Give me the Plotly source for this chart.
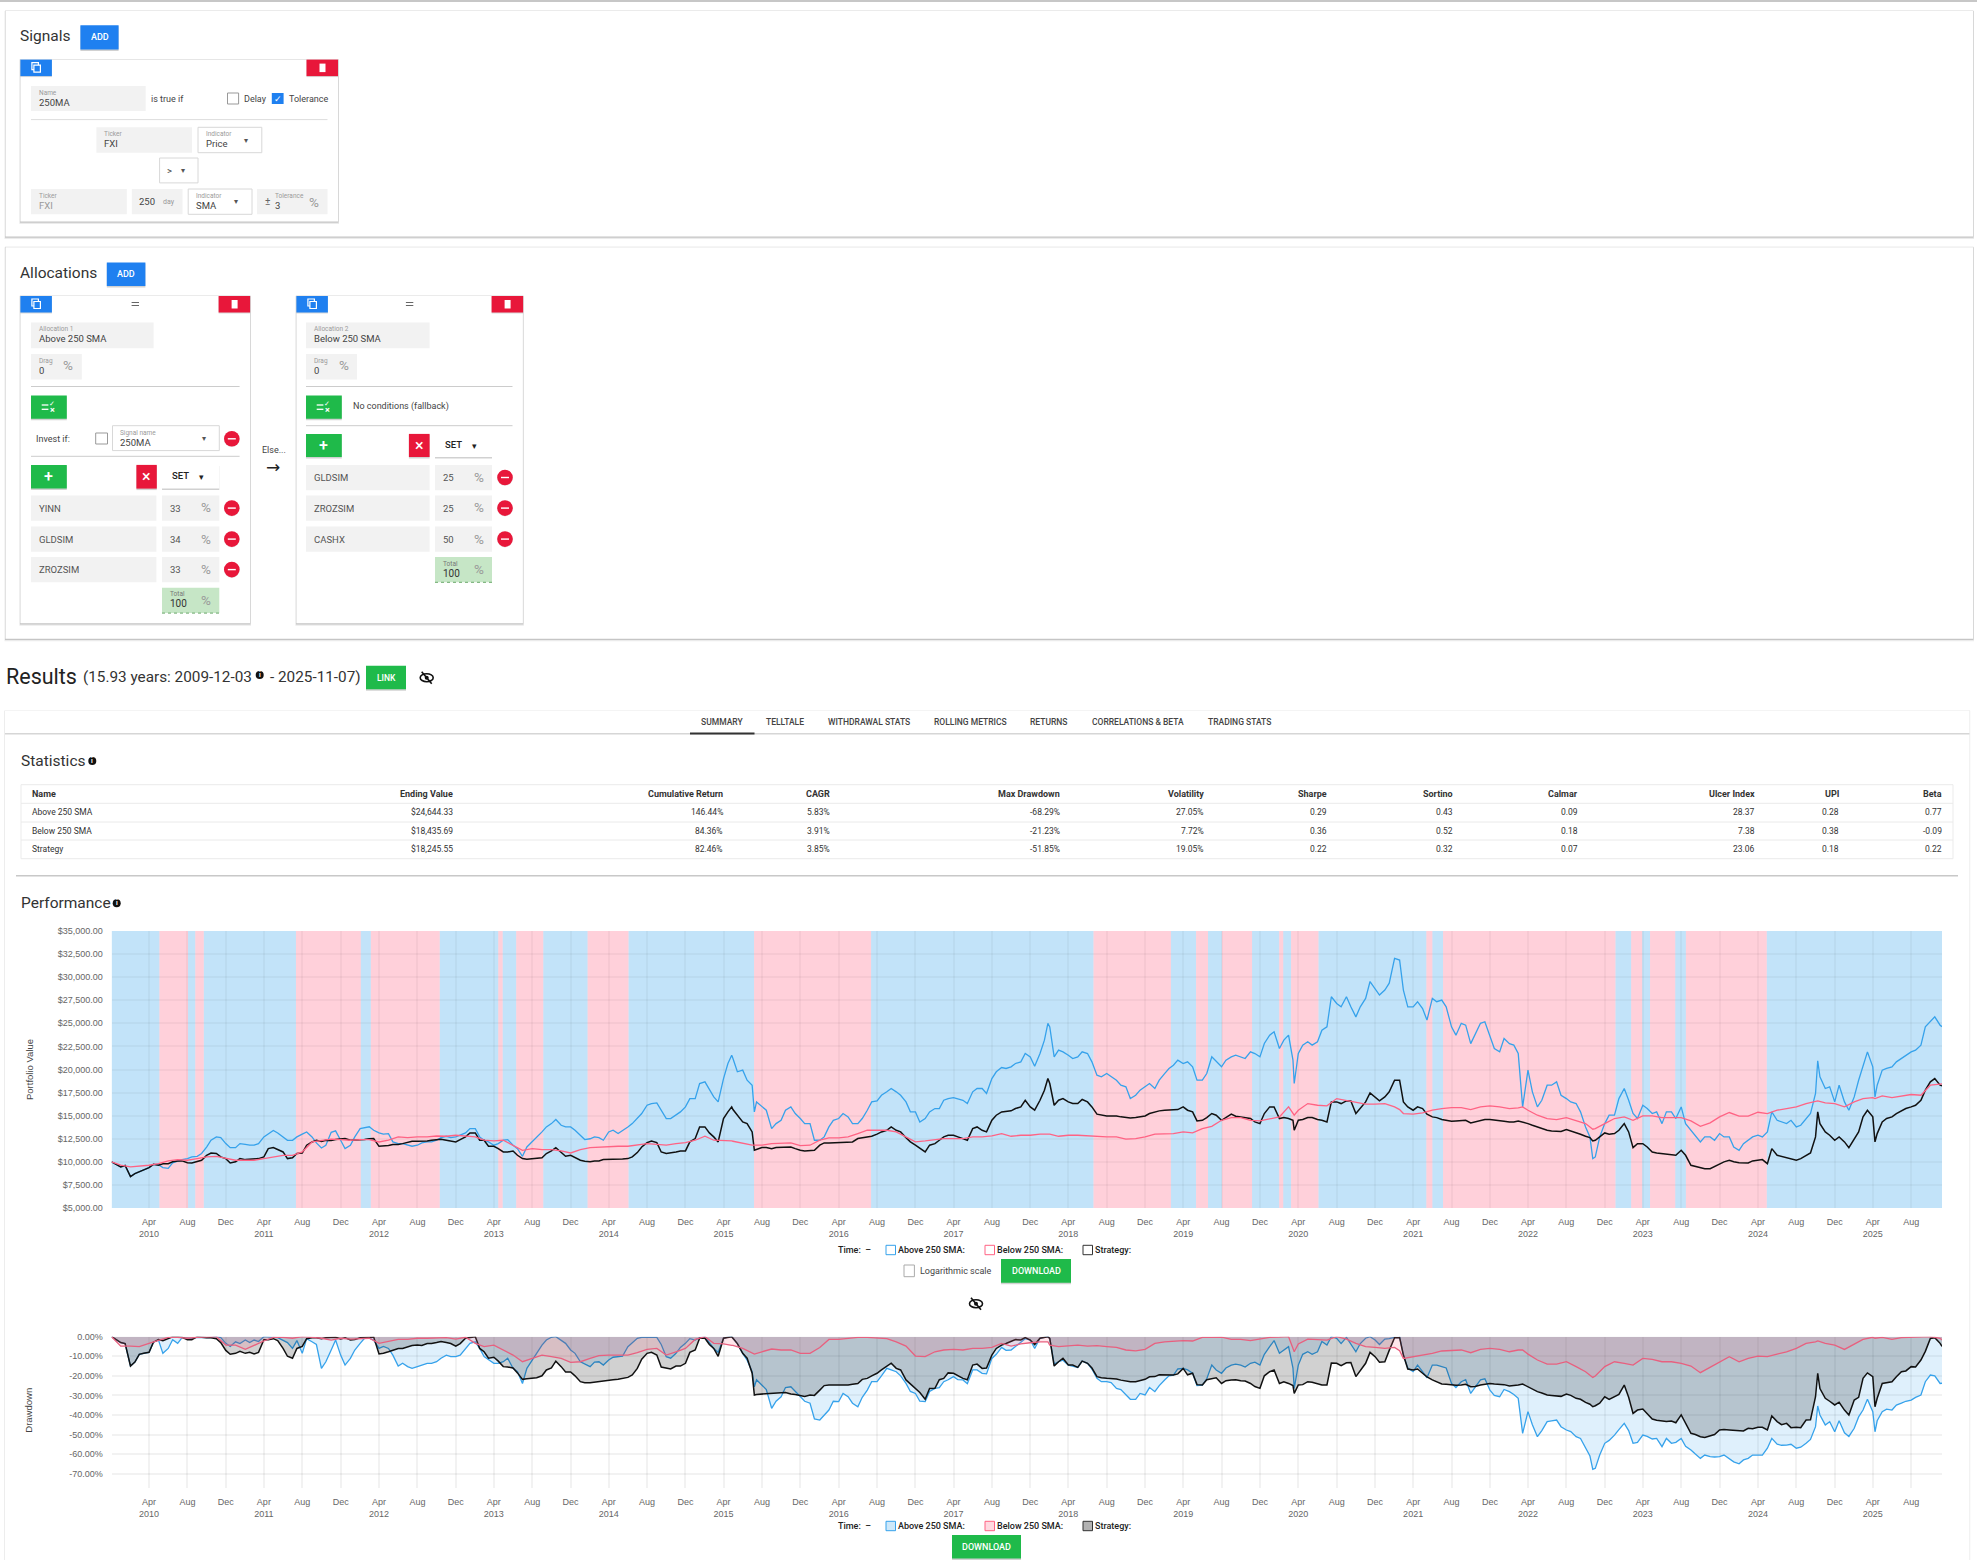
import pandas as pd
import plotly.graph_objects as go
from plotly.subplots import make_subplots

W = 1977
H = 1560
UI_FONT = "Roboto, Liberation Sans, sans-serif"
CHART_FONT = "Liberation Sans Narrow, Liberation Sans, sans-serif"

BLUE_BTN = "#1F80F0"
RED_BTN = "#E8173A"
GREEN_BTN = "#1FBA4A"
FIELD = "#F2F2F2"

# ---- chart data (month starts plus a few turning points)
month_dates = list(pd.date_range("2010-01-01", "2025-11-01", freq="MS").strftime("%Y-%m-%d"))
extra_dates = ["2009-12-03", "2015-04-27", "2015-07-08", "2018-01-26", "2020-03-19", "2021-02-17",
               "2022-03-15", "2022-10-24", "2024-10-08", "2025-04-08", "2025-11-07"]
dates = sorted(month_dates + extra_dates)
# the two jagged series are also read at mid month
mid_dates = [d[:8] + "15" for d in month_dates[:-1]]

above_value = [
    10000,
    9450, 8400, 8900, 9370, 9700, 9300, 10100, 10350, 10600, 11600, 12700, 11980,
    11540, 11900, 11800, 12700, 13400, 12700, 12330, 13000, 12700, 11500, 13200, 12340,
    11800, 13600, 13800, 13130, 13050, 11970, 11800, 11800, 12160, 12340, 12770, 12700,
    13130, 13600, 12340, 11800, 12340, 11800, 10600, 12160, 13240, 14140, 13960, 13780,
    12880, 12500, 12620, 13240, 13060, 13780, 14690, 16130, 16380, 14690, 15050, 15950,
    16850, 18660, 17030, 19020, 21550, 21190, 19930, 18300, 15400, 15950, 13600, 14500, 15950, 14690,
    14140, 12340, 13780, 14690, 14870, 14140, 15590, 16600, 17580, 17580, 16490, 15410,
    14690, 15770, 16670, 16960, 16670, 17580, 17940, 19020, 20210, 20290, 20830, 21370,
    21730, 25000, 24620, 22100, 21550, 21370, 21730, 19380, 19560, 18840, 18120, 17210, 18120,
    17940, 19560, 20470, 20650, 20290, 18840, 21370, 20290, 21370, 21370, 21910, 21370,
    23720, 22270, 23720, 18480, 21730, 23000, 23000, 24620, 27150, 27880, 25700, 27700, 28780,
    28600, 32030, 31850, 28600, 26790, 26600, 27700, 27520, 24620, 25000, 22800, 25000, 23540,
    21910, 22800, 21730, 15950, 19930, 15950, 18300, 18660, 16850, 16310, 13780, 10350, 10530, 14140,
    15050, 17940, 15230, 16130, 15230, 14140, 15410, 15950, 13420, 12160, 12700, 13060,
    12700, 11250, 12340, 12880, 13240, 14500, 14140, 13780, 14690, 17400, 20940, 17940, 16490,
    16490, 17030, 20470, 20290, 17030, 19930, 20290, 21190, 21910, 22640, 25170, 24800, 24644,
]
above_value_mid = [
    9600, 8720, 9150, 9730, 9370, 9900, 10240, 10530, 10900, 12340, 12620, 11540,
    11970, 11800, 11970, 13000, 13130, 12340, 12700, 13240, 12050, 11800, 13350, 11430,
    12700, 13710, 13420, 13000, 12160, 11970, 11690, 12050, 12160, 12620, 12620, 12880,
    13600, 12700, 12160, 11970, 12410, 11430, 11610, 12700, 13780, 14580, 13780, 13420,
    12410, 12700, 12340, 13420, 13350, 14140, 15230, 16310, 15590, 14690, 15410, 16850,
    18480, 17760, 16490, 20650, 19750, 18840, 16490, 15590, 14140, 15590, 15230, 14140,
    12340, 12700, 14500, 15230, 14140, 14690, 16490, 17210, 17940, 17210, 15410, 14320,
    15410, 15770, 16850, 16850, 16310, 17940, 17400, 19750, 20110, 20650, 21730, 20360,
    23180, 21370, 21910, 21190, 21910, 20830, 19200, 19200, 18300, 16850, 17760, 18480,
    18840, 20110, 21010, 20830, 18840, 19560, 20830, 21010, 21550, 21190, 21730, 22820,
    24080, 23180, 21010, 22640, 22640, 24260, 27880, 26790, 26790, 26790, 29530, 28060,
    29350, 31850, 26790, 27340, 25350, 27340, 26790, 23720, 24800, 23720, 25170, 22270,
    23360, 22640, 15950, 17580, 16670, 18300, 17210, 16490, 15410, 12700, 12700, 15050,
    16850, 16670, 14690, 15770, 15410, 15410, 14690, 14140, 12880, 12700, 12340, 12700,
    11610, 11970, 12700, 12700, 15410, 14320, 14500, 13960, 15230, 19200, 18120, 18300,
    15590, 18840, 21910, 18300, 20110, 20830, 21550, 22100, 24620, 25710,
]
below_value = [
    10000,
    9650, 9450, 9520, 9630, 9800, 10100, 10240, 10170, 10350, 10530, 10600, 10350,
    10170, 10170, 10170, 10350, 10530, 10700, 10700, 11070, 12150, 12260, 12450, 12400,
    12340, 12400, 12400, 12150, 12340, 12700, 12620, 12700, 12700, 12800, 12770, 12880,
    12800, 12700, 12340, 12260, 12340, 11800, 11250, 11430, 11320, 11320, 11180, 10960,
    11320, 11540, 11610, 11610, 11690, 11690, 11800, 11970, 11900, 11800, 11970, 12080,
    12340, 12770, 12340, 12340, 12260, 12230, 11970, 11800, 11800, 11800, 11970, 11970, 12050, 11760,
    11800, 12340, 12590, 12590, 12700, 13060, 13420, 13420, 13420, 13240, 12700, 12160,
    12260, 12400, 12520, 12520, 12520, 12700, 12700, 12800, 13060, 12770, 12880, 12880,
    13000, 13000, 13000, 12770, 12880, 12880, 12800, 12800, 12700, 12700, 12450, 12520, 12700,
    13000, 13060, 13060, 13240, 13130, 13600, 13850, 14500, 14790, 14790, 14500, 14430,
    14690, 14870, 15950, 15050, 15590, 16310, 16130, 16060, 16850, 16670, 16490, 16240, 16240,
    16310, 15950, 15660, 15230, 15160, 15300, 15590, 15770, 15880, 15880, 15660, 15950, 16060,
    15950, 15770, 15840, 15950, 15590, 15050, 14690, 14580, 14790, 14500, 14140, 13530, 13600, 14140,
    14690, 14870, 14500, 14970, 14970, 14790, 14790, 14790, 14430, 13850, 14220, 14870,
    15340, 14940, 14940, 15370, 15230, 15590, 15770, 15950, 16310, 16600, 16600, 16380, 16310,
    15950, 16490, 16850, 16960, 16850, 17140, 16960, 17140, 17290, 17210, 18300, 18410, 18436,
]
strategy_value = [
    10000,
    9450, 8400, 8900, 9370, 9630, 9800, 10100, 9900, 10000, 10700, 10900, 10350,
    10000, 10240, 10350, 10530, 11540, 11070, 10450, 10950, 12150, 12200, 12300, 12500,
    12340, 12400, 12500, 11680, 11760, 11870, 12150, 12230, 12260, 12400, 12340, 12160,
    12700, 13130, 12340, 11680, 11070, 11180, 10350, 10350, 10450, 11180, 11070, 10700,
    10170, 10000, 10100, 10240, 10280, 10350, 11000, 12080, 12080, 10900, 11070, 11180,
    12520, 13780, 12700, 14690, 15950, 15660, 14320, 13240, 11250, 11540, 11430, 11540, 11610, 11250,
    11250, 11800, 12050, 12080, 12160, 12520, 12700, 13000, 13420, 13420, 12620, 11800,
    11070, 11970, 12700, 12880, 12520, 13600, 13420, 14500, 15410, 15520, 15950, 15950,
    16670, 19020, 18480, 16670, 16490, 16310, 16490, 15160, 14970, 14970, 14790, 14790, 14970,
    15410, 15590, 15660, 15950, 15410, 14500, 15230, 14500, 15160, 14870, 14690, 14140,
    15950, 14690, 14690, 13420, 14500, 14790, 14580, 14320, 16490, 16600, 15230, 16490, 17030,
    17030, 18840, 18840, 16490, 15590, 15770, 14870, 14580, 14400, 14430, 14220, 14430, 14580,
    14430, 14320, 14430, 14320, 14140, 13780, 13420, 13310, 13490, 13130, 12770, 12260, 12340, 13130,
    13060, 14140, 11540, 11970, 11070, 10900, 10820, 11250, 9630, 9370, 9260, 9730,
    10170, 9900, 9880, 10170, 9800, 10710, 10460, 10170, 10710, 12700, 15410, 13240, 12340,
    12160, 12520, 14870, 14870, 12160, 14320, 14870, 15520, 15950, 16670, 18660, 18300, 18246,
]
strategy_value_mid = [
    9600, 8720, 9150, 9730, 9800, 10000, 10100, 9880, 10170, 10960, 10530, 9880,
    10350, 10280, 10350, 11430, 11320, 10350, 10900, 11800, 12340, 12340, 12410, 12520,
    12340, 12410, 12520, 11690, 11870, 11970, 12230, 12230, 12340, 12450, 12260, 12410,
    13130, 12340, 11690, 11430, 11070, 10710, 10280, 10460, 10900, 11540, 10600, 10460,
    10060, 10100, 10240, 10280, 10310, 10530, 11610, 12260, 11070, 10960, 11180, 12160,
    13780, 13130, 12160, 15410, 15050, 14140, 11320, 11540, 11540, 11610, 11430, 11180,
    11250, 12050, 12080, 12120, 12160, 12620, 12770, 13240, 13780, 13240, 12160, 11430,
    11800, 12340, 12880, 12700, 12340, 13780, 13240, 15050, 15480, 15770, 16670, 15590,
    17760, 16130, 16850, 16310, 16750, 15950, 15050, 14970, 14870, 14760, 14870, 15230,
    15520, 15590, 15660, 15590, 14430, 14790, 15050, 14790, 14940, 14790, 14320, 15230,
    15950, 14790, 14500, 14580, 14790, 14500, 16490, 16310, 16600, 15770, 17470, 16600,
    17580, 18840, 15950, 15950, 15160, 14790, 14500, 14430, 14500, 14320, 14580, 14500,
    14400, 14320, 14320, 13960, 13600, 13350, 13280, 13350, 12990, 12620, 12700, 12990,
    13420, 13240, 11970, 11610, 10960, 10820, 10710, 10710, 9520, 9260, 9520, 10000,
    10000, 9900, 10100, 10240, 11430, 10600, 10350, 10350, 10960, 14140, 12880, 12700,
    11540, 13240, 15590, 13060, 14690, 15230, 15770, 16130, 17760, 19020,
]

above_dd = [
    0,
    -3, -15, -9, -8, -1.7, -6, -3.4, -0.8, -0.3, -0.3, 0, -3.4,
    -2.6, -1.7, -1.7, 0, -0.3, -1.7, -6, -8.5, -2.6, -16.2, -6.8, -9.4,
    -11.1, -3.4, -0.8, -6, -6, -15, -15.3, -15.3, -13.6, -12.8, -9.4, -10.2,
    -6, -2.6, -10.2, -13.6, -12.8, -16.2, -23.9, -11.9, -4.3, -0.3, -1.7, -6.8,
    -12.8, -15.3, -12.8, -11.9, -10.2, -5.1, -0.8, -0.3, -0.3, -10.2, -8.5, -3.4,
    -1.7, -0.3, -6, -0.8, 0, -0.8, -8.5, -17.9, -25.6, -24.7, -36.6, -30.7, -25.6, -30.7,
    -34, -42.6, -37.5, -33.2, -30.7, -35.8, -27.3, -23, -16.2, -17.9, -23.9, -29,
    -33.2, -26.4, -23, -20.4, -22.1, -17, -18.7, -11.1, -5.5, -6.8, -2.6, -1.7,
    -0.8, 0, -1, -12.8, -14.5, -15.7, -13.6, -21.3, -23, -26.4, -29.8, -32, -29.8,
    -28.1, -22.1, -19.6, -16.2, -18.7, -24.7, -14.5, -18.7, -14.5, -14.5, -13.6, -14.5,
    -5.1, -8.5, -5.1, -26.4, -14.5, -7.7, -7.7, -4.3, -0.8, -0.3, -7.7, -0.8, -1.7,
    -1.2, -0.3, 0, -9.4, -17.9, -17.9, -14.5, -15.3, -23.9, -23, -29, -22.1, -27.3,
    -30.7, -28.1, -31.5, -49.4, -38.3, -51.1, -43.4, -42.6, -47.7, -51.1, -57, -67.8, -67.3, -54.5,
    -50.3, -44.3, -54.5, -50.3, -52.3, -56.2, -54.5, -52, -57.9, -62.2, -61.3, -61.3,
    -62.2, -65, -62.2, -60.5, -57, -54.9, -55.4, -57, -54.5, -46, -35.4, -45.1, -48.6,
    -49.1, -46.8, -37.5, -38.3, -48.6, -38.3, -37.5, -34, -32.4, -29.8, -19.6, -23.9, -23.8,
]
above_dd_mid = [
    -3.5, -13, -8.5, -2.8, -8.5, -1.5, -0.5, -1, -0.3, -0.5, -0.5, -5,
    -3.5, -3, -2.5, -0.3, -0.5, -3, -2, -1, -4, -12.8, -1.7, -14.5,
    -6.8, -0.8, -1.7, -5, -9.4, -13.6, -16.2, -14.5, -13.6, -11, -10.2, -9.4,
    -3.4, -6, -11.9, -13.6, -11, -17.9, -16.2, -8.5, -1.7, 0, -3.4, -8.5,
    -14, -13, -14.5, -10.5, -10, -3, -0.3, 0, -4, -11, -5.5, -1,
    -0.5, -3, -8, -0.2, -3.5, -12, -22, -27, -33, -26, -28, -33,
    -42, -40, -33, -29, -34, -31, -23, -20, -17, -20, -28, -33,
    -28, -26, -22, -22, -24, -17, -19, -9, -7, -5, -1, -6,
    -0.5, -14, -12, -15, -12.5, -16.5, -23, -23.5, -27, -32, -29, -26,
    -25, -20, -16.5, -17, -25, -21.5, -17, -16, -14, -15.5, -13, -9,
    -2, -7, -16, -9, -9, -2.5, 0, -3.5, -3.5, -3.5, 0, -4,
    -1, -0.5, -16, -14.5, -21, -14.5, -16, -26, -22, -26, -21.5, -30,
    -27, -29.5, -49.4, -45, -48, -43, -46, -48.5, -52, -61, -60.5, -53,
    -47.5, -48, -54, -51, -52, -52, -54, -56, -60, -60.5, -61.5, -60.5,
    -64, -63, -60.5, -60.5, -52, -55.5, -55, -56.5, -52.5, -40, -43.5, -43,
    -51, -41, -32, -43, -37, -35, -33, -31, -23, -20,
]
below_dd = [
    0,
    -4.8, -4.8, -5.1, -3.4, -1.7, -0.3, -0.3, -0.8, -0.3, 0, 0, -4.3,
    -4.3, -6.5, -4.3, -2.2, -0.3, -0.3, -0.8, 0, -0.3, -0.8, -1.7, -0.8,
    -1.2, -0.8, -0.8, -3.4, -2.6, -1.4, -1.4, -0.8, -0.8, -0.5, -0.5, -1.2,
    -0.3, -3.4, -5.1, -4.3, -6.8, -9.4, -12.8, -11.1, -9.4, -10.2, -11.1, -13.1,
    -12.8, -11.1, -9.7, -9.4, -9.4, -9.4, -8.2, -6.5, -6, -9.4, -7.7, -6,
    -1.4, 0, -3.4, -3.7, -4.4, -4.4, -6, -8.5, -8.9, -7.7, -6.3, -6.8, -6.8, -8.5,
    -8.5, -5.5, -1.4, -1.4, -0.8, -0.3, -0.3, -0.8, -1, -2.6, -4.8, -9.9,
    -10.2, -7.7, -6.8, -6.5, -6.8, -6, -6, -5.5, -3.4, -4.8, -3.7, -3.1,
    -2.6, -2.6, -4.3, -5.1, -4.8, -4.3, -4.8, -4.6, -5.1, -5.5, -6.8, -7.2, -6.5,
    -3.4, -2.6, -2.2, -2, -2.2, -0.3, -0.3, -0.2, -1.4, -1.4, -2, -1.2,
    -0.3, -0.2, 0, -7.7, -3.7, -1.2, -1.4, -1.7, 0, -1.2, -3.4, -5.1, -5.5,
    -6, -5.5, -7.2, -11.1, -10.2, -9.7, -8.5, -7.3, -7.2, -6.8, -8.2, -6.5, -6,
    -6.5, -7.7, -6.8, -6.8, -8.9, -11.9, -14, -14, -12.8, -15.3, -17.9, -20.8, -20.1, -15.3,
    -12.8, -13.6, -14.5, -11.1, -11.6, -12.8, -12.8, -13.6, -15, -18.4, -15.7, -12.8,
    -10.2, -12.8, -11.1, -9.9, -10.2, -8.9, -7.7, -6, -3.4, -2.6, -2.2, -3.4, -4.3,
    -6.5, -3.7, -1.4, -0.3, -0.8, -0.3, -1.4, -0.5, -0.3, -0.2, 0, -0.8, -1.7,
]
strategy_dd = [
    0,
    -3, -15, -9, -8, -1.5, -0.8, 0, -1.5, 0, -0.5, -1, -7,
    -8.5, -8.5, -8.8, -1.5, -1, -6, -11, -5, -0.5, -1, -0.5, -1.2,
    -1.7, -0.5, -0.3, -8.8, -7.7, -6, -5, -4.2, -3.5, -3, -3, -4.8,
    -0.8, 0, -7.7, -10.5, -15.3, -16, -21.8, -21.3, -20, -16, -15.3, -18,
    -23, -23.5, -22.7, -22.1, -21.8, -20.8, -16.2, -8.5, -9.4, -16.2, -15, -13.6,
    -6.8, -0.8, -6, -0.8, 0, -0.8, -8.5, -18.7, -29.8, -29.3, -28.6, -28.6, -29.3, -30.2,
    -29.8, -27.3, -24.7, -24.7, -24.7, -23.9, -21.3, -18.7, -15, -16.2, -22.1, -26.4,
    -32, -26.4, -21.3, -18.7, -21.3, -14.5, -16.2, -9.4, -4.3, -2.6, -1.7, -1.7,
    -0.8, 0, -0.9, -12.8, -14.5, -15.7, -13.6, -20.4, -21.3, -21.6, -22.7, -23, -21.8,
    -20.4, -19.6, -19.6, -16.2, -18.7, -24.7, -21.3, -23.9, -22.1, -22.5, -23.9, -26.4,
    -17.9, -23.9, -23.9, -29, -24.7, -23, -23.9, -24.7, -13.6, -13.3, -20.4, -13.6, -10.2,
    -12.8, -0.5, -0.5, -9.4, -17, -18.7, -22.1, -24.2, -24.7, -24.7, -25.6, -24.7, -23.9,
    -24.4, -25.2, -24.7, -24.2, -25.6, -28.1, -29.8, -30.3, -29.3, -31.5, -33.6, -35.8, -35.3, -30.7,
    -30.7, -24.7, -39.2, -37, -42.1, -42.9, -43.1, -40, -49.4, -51.1, -50.8, -47.7,
    -47.7, -48.2, -46.8, -46.3, -47.7, -43.4, -44.3, -46.3, -42.6, -30.7, -18.7, -31.5, -34.9,
    -37.5, -32.4, -21.3, -20.4, -35.8, -23.9, -23, -17.9, -15.3, -11.9, -0.9, -3.4, -5,
]
strategy_dd_mid = [
    -3.5, -13, -8.5, -2.8, -2, 0, -0.3, -1.5, -0.3, -0.5, -3, -9,
    -7.5, -8, -8, -1.5, -2, -10, -6, -1, -0.5, -0.5, -0.3, -0.5,
    -1.5, -0.5, -0.2, -8.5, -7, -6, -4.5, -4.5, -3.5, -2.5, -3.5, -3.5,
    -0.3, -6, -11, -12.5, -15.5, -18.5, -21.5, -21, -17, -12.5, -18, -20,
    -23.5, -23.2, -22.3, -22, -21.5, -19.5, -11.5, -8, -15.5, -16.5, -15, -8,
    -0.8, -4, -10, -0.2, -3.5, -11, -29.5, -29, -28.7, -28.5, -29.5, -30.5,
    -30, -25, -24.7, -24.5, -24.3, -21.8, -20, -17, -13.5, -17, -24, -28.5,
    -26.5, -22, -18.5, -20, -22, -14, -16, -6, -3.5, -1.5, -0.5, -4,
    -0.5, -15, -11, -14.5, -12.5, -16, -21, -21.5, -22.2, -23, -22.3, -20.5,
    -19.5, -19.6, -19, -19.5, -24.5, -22, -21, -22.5, -22, -22.7, -25.5, -20,
    -17, -23, -25, -24.5, -23.3, -24.7, -13.5, -14.8, -13.2, -17.5, -8, -13,
    -7, -0.5, -16.5, -16.5, -20.5, -23, -24.3, -24.8, -24.3, -25.5, -24.2, -24.2,
    -24.5, -25, -24.2, -27, -28.8, -30, -30.5, -30, -32, -34.5, -34, -32,
    -29.5, -31, -37.5, -39.5, -42.7, -43.3, -44, -44, -50, -51.5, -50, -47.5,
    -47.8, -48.2, -47, -46.3, -40.5, -45, -46.5, -46.5, -42.5, -26.5, -33, -33.5,
    -40, -31, -18.5, -31.5, -23.5, -20.5, -17.5, -15.5, -7.5, -0.5,
]

# stretches where the signal was false (pink); the rest of the range is blue
below_starts = ["2010-05-04", "2010-08-26", "2011-07-12", "2012-03-06", "2013-04-15", "2013-06-11",
                "2014-01-24", "2015-07-07", "2018-06-20", "2019-05-12", "2019-08-02", "2020-01-31",
                "2020-03-09", "2021-05-13", "2021-07-05", "2023-02-23", "2023-04-24", "2023-08-16"]
below_ends = ["2010-08-03", "2010-09-22", "2012-02-03", "2012-10-11", "2013-04-29", "2013-09-05",
              "2014-06-03", "2016-07-13", "2019-02-21", "2019-06-19", "2019-11-06", "2020-02-13",
              "2020-06-04", "2021-06-01", "2023-01-04", "2023-03-30", "2023-07-13", "2024-04-29"]

value_ticks = [5000, 7500, 10000, 12500, 15000, 17500, 20000, 22500, 25000, 27500, 30000, 32500, 35000]
value_labels = ["$5,000.00", "$7,500.00", "$10,000.00", "$12,500.00", "$15,000.00", "$17,500.00", "$20,000.00",
                "$22,500.00", "$25,000.00", "$27,500.00", "$30,000.00", "$32,500.00", "$35,000.00"]
dd_ticks = [0, -10, -20, -30, -40, -50, -60, -70]
dd_labels = ["0.00%", "-10.00%", "-20.00%", "-30.00%", "-40.00%", "-50.00%", "-60.00%", "-70.00%"]

tick_dates = []
tick_text = []
for year in range(2010, 2026):
    tick_dates += [f"{year}-04-01", f"{year}-08-01"]
    tick_text += [f"Apr<br>{year}", "Aug"]
    if year < 2025:
        tick_dates.append(f"{year}-12-01")
        tick_text.append("Dec")

# ---- table text
table_cols = ["Name", "Ending Value", "Cumulative Return", "CAGR", "Max Drawdown", "Volatility", "Sharpe",
              "Sortino", "Calmar", "Ulcer Index", "UPI", "Beta"]
table_above = ["Above 250 SMA", "$24,644.33", "146.44%", "5.83%", "-68.29%", "27.05%", "0.29", "0.43", "0.09", "28.37", "0.28", "0.77"]
table_below = ["Below 250 SMA", "$18,435.69", "84.36%", "3.91%", "-21.23%", "7.72%", "0.36", "0.52", "0.18", "7.38", "0.38", "-0.09"]
table_strategy = ["Strategy", "$18,245.55", "82.46%", "3.85%", "-51.85%", "19.05%", "0.22", "0.32", "0.07", "23.06", "0.18", "0.22"]
table_right = [None, 453.4, 722.6, 829.7, 1059.8, 1204.4, 1327, 1453, 1577.6, 1754.5, 1838.6, 1942]

tab_names = ["SUMMARY", "TELLTALE", "WITHDRAWAL STATS", "ROLLING METRICS", "RETURNS", "CORRELATIONS & BETA", "TRADING STATS"]
tab_centers = [722, 785, 868.5, 970.5, 1049, 1137.5, 1239.5]

shapes = []
notes = []


def rect(x0, y0, x1, y1, fill=None, line=None, lw=1, kind="rect", dash=None):
    shapes.append(dict(type=kind, xref="paper", yref="paper", layer="below",
                       x0=x0 / W, x1=x1 / W, y0=1 - y0 / H, y1=1 - y1 / H,
                       fillcolor=fill if fill else "rgba(0,0,0,0)",
                       line=dict(color=line if line else "rgba(0,0,0,0)", width=lw if line else 0, dash=dash)))


def hline(x0, x1, y, color="#DDDDDD", lw=1, dash=None):
    shapes.append(dict(type="line", xref="paper", yref="paper", layer="below",
                       x0=x0 / W, x1=x1 / W, y0=1 - y / H, y1=1 - y / H,
                       line=dict(color=color, width=lw, dash=dash)))


def txt(x, y, s, size=9, color="#333333", anchor="left", weight=None, family=UI_FONT, angle=0):
    font = dict(size=size, color=color, family=family)
    if weight:
        font["weight"] = weight
    notes.append(dict(x=x / W, y=1 - y / H, xref="paper", yref="paper", text=s, showarrow=False,
                      xanchor=anchor, yanchor="middle", font=font, textangle=angle,
                      borderpad=0, borderwidth=0))


def card(x0, y0, x1, y1, strong=0.16):
    rect(x0 - 1, y0, x1 + 1, y1 + 2.5, fill=f"rgba(0,0,0,{strong / 2})")
    rect(x0 - 0.5, y0 - 0.5, x1 + 0.5, y1 + 1.2, fill=f"rgba(0,0,0,{strong})")
    rect(x0, y0, x1, y1, fill="white")


def button(x0, y0, x1, y1, color, text=None, size=9, tcolor="white"):
    rect(x0, y0 + 1, x1, y1 + 1.5, fill="rgba(0,0,0,0.18)")
    rect(x0, y0, x1, y1, fill=color)
    if text:
        txt((x0 + x1) / 2, (y0 + y1) / 2, text, size=size, color=tcolor, anchor="center", weight=500)


def copy_button(x0, y0):
    rect(x0, y0 + 0.5, x0 + 31.5, y0 + 17.5, fill="rgba(0,0,0,0.15)")
    rect(x0, y0, x0 + 31.5, y0 + 16.5, fill=BLUE_BTN)
    rect(x0 + 11.5, y0 + 3, x0 + 18, y0 + 10, line="white", lw=1.2)
    rect(x0 + 13.5, y0 + 5.5, x0 + 20, y0 + 12.5, fill=BLUE_BTN, line="white", lw=1.2)


def delete_button(x0, y0):
    rect(x0, y0 + 0.5, x0 + 31.5, y0 + 17.5, fill="rgba(0,0,0,0.15)")
    rect(x0, y0, x0 + 31.5, y0 + 16.5, fill=RED_BTN)
    rect(x0 + 13, y0 + 4, x0 + 19, y0 + 12.5, fill="white")


def handle(cx, y0):
    rect(cx - 3.7, y0 + 6, cx + 3.7, y0 + 6.9, fill="#555555")
    rect(cx - 3.7, y0 + 9, cx + 3.7, y0 + 9.9, fill="#555555")


def filter_button(x0, y0, x1, y1):
    button(x0, y0, x1, y1, GREEN_BTN)
    cx = (x0 + x1) / 2
    cy = (y0 + y1) / 2
    rect(cx - 7.2, cy - 2.8, cx - 0.5, cy - 1.5, fill="white")
    rect(cx - 7.2, cy + 1.5, cx - 0.5, cy + 2.8, fill="white")
    txt(cx + 3.2, cy - 3, "✓", size=7, color="white", anchor="center", family="DejaVu Sans")
    txt(cx + 3.2, cy + 2.5, "×", size=9, color="white", anchor="center", weight=700)


def field(x0, y0, x1, y1, label=None, value=None, tx=None, outlined=False, vcolor="#444444", arrow=None):
    if outlined:
        rect(x0, y0, x1, y1, fill="white", line="#D8D8D8", lw=1)
    else:
        rect(x0, y0, x1, y1, fill=FIELD)
    tx = tx if tx is not None else x0 + 7.5
    if label:
        txt(tx, y0 + 7, label, size=6.5, color="#9A9A9A")
        txt(tx, y0 + 16.5, value, size=9.5, color=vcolor)
    elif value:
        txt(tx, (y0 + y1) / 2, value, size=9.5, color=vcolor)
    if arrow:
        txt(arrow, (y0 + y1) / 2, "▾", size=8, color="#555555", anchor="center", family="DejaVu Sans")


def minus(cx, cy):
    rect(cx - 7.8, cy - 7.3, cx + 7.8, cy + 8.3, fill="rgba(0,0,0,0.12)", kind="circle")
    rect(cx - 7.8, cy - 7.8, cx + 7.8, cy + 7.8, fill=RED_BTN, kind="circle")
    rect(cx - 4, cy - 0.7, cx + 4, cy + 0.7, fill="white")


def alloc_row(nx0, nx1, vx0, vx1, y0, name, value, pct_x, minus_x):
    field(nx0, y0, nx1, y0 + 25.3, value=name, vcolor="#555555")
    field(vx0, y0, vx1, y0 + 25.3, value=value, vcolor="#555555")
    txt(pct_x, y0 + 12, "%", size=13.5, color="#999999", anchor="center")
    minus(minus_x, y0 + 12.6)


def total_box(x0, x1, y0, pct_x):
    rect(x0, y0, x1, y0 + 25.3, fill="#C6E6C6")
    hline(x0, x1, y0 + 25.3, color="#6AA86A", lw=1, dash="dot")
    txt(x0 + 7.5, y0 + 6.5, "Total", size=6.5, color="#777777")
    txt(x0 + 7.5, y0 + 16, "100", size=10, color="#333333")
    txt(pct_x, y0 + 12, "%", size=13.5, color="#999999", anchor="center")


def info(cx, cy):
    rect(cx - 4, cy - 4, cx + 4, cy + 4, fill="#111111", kind="circle")
    txt(cx, cy, "i", size=6.5, color="white", anchor="center", weight=700)


def eye_off(cx, cy):
    rect(cx - 6.5, cy - 4, cx + 6.5, cy + 4, line="#111111", lw=1.6, kind="circle")
    rect(cx - 2, cy - 2, cx + 2, cy + 2, fill="#111111", kind="circle")
    shapes.append(dict(type="line", xref="paper", yref="paper", layer="below",
                       x0=(cx - 5) / W, x1=(cx + 5) / W, y0=1 - (cy - 6) / H, y1=1 - (cy + 6) / H,
                       line=dict(color="#111111", width=1.6)))


def legend_row(y, filled):
    txt(837.8, y, "Time:  –", size=9, color="#222222", weight=500)
    boxes = [(886, "#36A2EB", "rgba(54,162,235,0.25)", 898, "Above 250 SMA:"),
             (985, "#FF6384", "rgba(255,99,132,0.25)", 997, "Below 250 SMA:"),
             (1083, "#333333", "rgba(0,0,0,0.3)", 1095.4, "Strategy:")]
    for bx, col, fill, tx, name in boxes:
        rect(bx, y - 4.7, bx + 9.5, y + 4.7, fill=fill if filled else "white", line=col, lw=1)
        txt(tx, y, name, size=9, color="#222222", weight=500)


# ---- top strip and the two input panels
rect(0, -3, W, 2, fill="rgba(0,0,0,0.22)")
card(5.5, 11, 1973, 236.5)
txt(20.4, 36, "Signals", size=15.5, color="#333333")
button(80.4, 25.3, 118.6, 49.4, BLUE_BTN, "ADD")

card(20.4, 59.6, 338, 221.6)
copy_button(20.4, 59.6)
delete_button(306.5, 59.6)
field(31, 86, 145.7, 111, "Name", "250MA")
txt(151.4, 98.8, "is true if", size=9, color="#444444")
rect(227.5, 93, 238.6, 104, fill="white", line="#999999", lw=1)
txt(244, 98.8, "Delay", size=9, color="#444444")
rect(271.8, 93, 283.6, 104, fill="#1F80F0")
txt(277.7, 98.5, "✓", size=9, color="white", anchor="center", family="DejaVu Sans")
txt(288.6, 98.8, "Tolerance", size=9, color="#444444")
hline(31, 327.5, 119.6)
field(96.4, 127.3, 192, 152.7, "Ticker", "FXI")
field(198, 127.3, 261.8, 152.7, "Indicator", "Price", outlined=True, arrow=246)
field(159.6, 158, 198, 182.9, value=">", outlined=True, tx=167, arrow=183)
field(31, 189, 126.8, 214.3, "Ticker", "FXI", vcolor="#999999")
field(131.8, 189, 182.5, 214.3, value="250", vcolor="#444444")
txt(163, 201.6, "day", size=7, color="#999999")
field(188.2, 189, 252, 214.3, "Indicator", "SMA", outlined=True, arrow=236.4)
rect(257, 189, 327.5, 214.3, fill=FIELD)
txt(265, 201.6, "±", size=10, color="#666666")
txt(275, 195.5, "Tolerance", size=6.5, color="#9A9A9A")
txt(275, 205.5, "3", size=9.5, color="#444444")
txt(314, 201.6, "%", size=13.5, color="#999999", anchor="center")

card(5.5, 247.3, 1973, 638.8)
txt(20.4, 272.6, "Allocations", size=15.5, color="#333333")
button(106.8, 262.4, 145.4, 286, BLUE_BTN, "ADD")

# first allocation
card(20.4, 296, 250, 623.3)
copy_button(20.4, 296)
delete_button(218.6, 296)
handle(135.3, 296)
field(31, 322.4, 153.6, 348.2, "Allocation 1", "Above 250 SMA")
field(31, 353.9, 81.8, 379.6, "Drag", "0")
txt(68.2, 365, "%", size=13.5, color="#999999", anchor="center")
hline(31, 239.6, 386.5, color="#CCCCCC")
filter_button(31, 395.5, 66.8, 418.8)
txt(36, 438.8, "Invest if:", size=9, color="#444444")
rect(95.7, 433, 107.5, 444, fill="white", line="#999999", lw=1)
field(112.5, 425.7, 219.3, 450.6, "Signal name", "250MA", outlined=True, arrow=204)
minus(231.8, 438.8)
hline(31, 239.6, 456.3, color="#CCCCCC")
button(31, 464.9, 66.8, 488.6, GREEN_BTN, "+", size=16)
button(136.4, 464.9, 156.8, 488.6, RED_BTN, "×", size=16)
button(162, 464.9, 219.3, 488.6, "white")
txt(180, 475.8, "SET", size=9.5, color="#222222", anchor="center", weight=500)
txt(201, 476.8, "▾", size=9, color="#222222", anchor="center", family="DejaVu Sans")
alloc_row(31, 156.4, 162, 219.3, 495.5, "YINN", "33", 206, 231.8)
alloc_row(31, 156.4, 162, 219.3, 526.5, "GLDSIM", "34", 206, 231.8)
alloc_row(31, 156.4, 162, 219.3, 557, "ZROZSIM", "33", 206, 231.8)
total_box(162, 219.3, 587.8, 206)

txt(273.6, 449.8, "Else...", size=9, color="#444444", anchor="center")
txt(273, 466.7, "→", size=17, color="#222222", anchor="center", family="DejaVu Sans")

# second allocation
card(296.4, 296, 522.9, 623.3)
copy_button(296.4, 296)
delete_button(491.6, 296)
handle(409.6, 296)
field(306, 322.4, 429.6, 348.2, "Allocation 2", "Below 250 SMA")
field(306, 353.9, 357, 379.6, "Drag", "0")
txt(344, 365, "%", size=13.5, color="#999999", anchor="center")
hline(306, 512.5, 386.5, color="#CCCCCC")
filter_button(306, 395.5, 341.8, 418.8)
txt(353.2, 406.5, "No conditions (fallback)", size=9, color="#444444")
hline(306, 512.5, 425.7, color="#CCCCCC")
button(306, 433.9, 341.8, 457, GREEN_BTN, "+", size=16)
button(408.9, 433.9, 429.6, 457, RED_BTN, "×", size=16)
button(435, 433.9, 492, 457, "white")
txt(453, 444.9, "SET", size=9.5, color="#222222", anchor="center", weight=500)
txt(474, 445.5, "▾", size=9, color="#222222", anchor="center", family="DejaVu Sans")
alloc_row(306, 429.6, 435, 492, 464.9, "GLDSIM", "25", 478.6, 505)
alloc_row(306, 429.6, 435, 492, 495.5, "ZROZSIM", "25", 478.6, 505)
alloc_row(306, 429.6, 435, 492, 526.5, "CASHX", "50", 478.6, 505)
total_box(435, 492, 557, 478.6)

# ---- results header, tabs and statistics table
txt(5.5, 676.5, "Results", size=21.5, color="#222222")
txt(83, 677, "(15.93 years: 2009-12-03", size=15.3, color="#333333")
info(259.7, 675)
txt(270, 677, "- 2025-11-07)", size=15.3, color="#333333")
button(366, 665.7, 406, 689.3, GREEN_BTN, "LINK", size=8.5)
eye_off(426.7, 677.7)

card(5, 710.7, 1969.5, 1565, strong=0.07)
hline(5, 1969.5, 733.8, color="#D6D6D6", lw=1.5)
for name, cx in zip(tab_names, tab_centers):
    txt(cx, 722.3, name, size=8.5, color="#444444", anchor="center", weight=500)
hline(690, 754.5, 733.4, color="#333333", lw=2)

txt(21.3, 761, "Statistics", size=15.5, color="#333333")
info(92.3, 761)
rect(21, 784.7, 1953, 858.7, fill="white", line="#EBEBEB", lw=1)
for y in [803.3, 822, 840]:
    hline(21, 1953, y, color="#EAEAEA", lw=1)
for y, row, size, weight in [(794, table_cols, 9, 700), (812.3, table_above, 8.5, None),
                             (831.3, table_below, 8.5, None), (849.3, table_strategy, 8.5, None)]:
    txt(31.7, y, row[0], size=size, color="#333333", weight=weight)
    for value, right in zip(row[1:], table_right[1:]):
        txt(right, y, value, size=size, color="#333333", anchor="right", weight=weight)
hline(16, 1958, 875.7, color="#C8C8C8", lw=1.5)

txt(21.3, 903.3, "Performance", size=15.5, color="#333333")
info(116.7, 903.3)

# ---- controls around the charts
legend_row(1250, False)
rect(904, 1265, 914.4, 1276.7, fill="white", line="#AAAAAA", lw=1)
txt(920, 1270.7, "Logarithmic scale", size=9, color="#444444")
button(1001, 1259, 1071, 1282.7, GREEN_BTN, "DOWNLOAD", size=9)
eye_off(976, 1303.7)
legend_row(1526, True)
button(952, 1535, 1021, 1558.5, GREEN_BTN, "DOWNLOAD", size=9)

txt(29, 1070, "Portfolio Value", size=9.5, color="#444444", anchor="center", family="Liberation Sans", angle=-90)
txt(29, 1410.7, "Drawdown", size=9.5, color="#444444", anchor="center", family="Liberation Sans", angle=-90)

# ---- charts
assert len(dates) == len(above_value) == len(below_value) == len(strategy_value)
assert len(dates) == len(above_dd) == len(below_dd) == len(strategy_dd)
assert len(mid_dates) == len(above_value_mid) == len(strategy_value_mid)
assert len(mid_dates) == len(above_dd_mid) == len(strategy_dd_mid)


def with_mid(values, mids):
    df = pd.DataFrame(dict(date=dates + mid_dates, value=values + mids))
    df = df.sort_values("date", kind="stable")
    return df["date"], df["value"]


range_start = dates[0]
range_end = dates[-1]

for x0, x1 in zip([range_start] + below_ends, below_starts + [range_end]):
    shapes.append(dict(type="rect", xref="x", yref="y domain", layer="below", x0=x0, x1=x1, y0=0, y1=1,
                       fillcolor="rgba(54,162,235,0.3)", line=dict(width=0)))
for x0, x1 in zip(below_starts, below_ends):
    shapes.append(dict(type="rect", xref="x", yref="y domain", layer="below", x0=x0, x1=x1, y0=0, y1=1,
                       fillcolor="rgba(255,99,132,0.3)", line=dict(width=0)))

fig = make_subplots(rows=2, cols=1)

x_above, y_above = with_mid(above_value, above_value_mid)
x_strategy, y_strategy = with_mid(strategy_value, strategy_value_mid)
fig.add_trace(go.Scatter(x=x_above, y=y_above, mode="lines", name="Above 250 SMA",
                         line=dict(color="#36A2EB", width=1.3)), row=1, col=1)
fig.add_trace(go.Scatter(x=x_strategy, y=y_strategy, mode="lines", name="Strategy",
                         line=dict(color="#111111", width=1.5)), row=1, col=1)
fig.add_trace(go.Scatter(x=dates, y=below_value, mode="lines", name="Below 250 SMA",
                         line=dict(color="#FF6384", width=1.3)), row=1, col=1)

x_above, y_above = with_mid(above_dd, above_dd_mid)
x_strategy, y_strategy = with_mid(strategy_dd, strategy_dd_mid)
fig.add_trace(go.Scatter(x=x_above, y=y_above, mode="lines", name="Above 250 SMA", fill="tozeroy",
                         fillcolor="rgba(54,162,235,0.16)", line=dict(color="#36A2EB", width=1.3)), row=2, col=1)
fig.add_trace(go.Scatter(x=x_strategy, y=y_strategy, mode="lines", name="Strategy", fill="tozeroy",
                         fillcolor="rgba(0,0,0,0.18)", line=dict(color="#111111", width=1.5)), row=2, col=1)
fig.add_trace(go.Scatter(x=dates, y=below_dd, mode="lines", name="Below 250 SMA", fill="tozeroy",
                         fillcolor="rgba(255,99,132,0.16)", line=dict(color="#E8607F", width=1.3)), row=2, col=1)

axis_x = dict(domain=[111.6 / W, 1942 / W], range=[range_start, range_end], type="date", tickmode="array",
              tickvals=tick_dates, ticktext=tick_text, tickangle=0, automargin=False,
              tickfont=dict(size=9, color="#666666", family=CHART_FONT),
              showgrid=True, gridwidth=1.5, zeroline=False, showline=False,
              ticks="outside", ticklen=5, tickcolor="rgba(0,0,0,0)")
fig.update_layout(
    width=W,
    height=H,
    margin=dict(l=0, r=0, t=0, b=0, autoexpand=False),
    paper_bgcolor="white",
    plot_bgcolor="rgba(0,0,0,0)",
    showlegend=False,
    shapes=shapes,
    annotations=notes,
)
fig.update_xaxes(**axis_x)
fig.update_xaxes(gridcolor="rgba(0,0,0,0.035)", row=1, col=1)
fig.update_xaxes(gridcolor="rgba(0,0,0,0.05)", row=2, col=1)
fig.update_yaxes(domain=[1 - 1208 / H, 1 - 931 / H], range=[5000, 35000], tickmode="array",
                 tickvals=value_ticks, ticktext=value_labels, automargin=False,
                 tickfont=dict(size=9, color="#666666", family=CHART_FONT),
                 showgrid=True, gridcolor="rgba(0,0,0,0.035)", gridwidth=1.5, zeroline=False,
                 ticks="outside", ticklen=6, tickcolor="rgba(0,0,0,0)", row=1, col=1)
fig.update_yaxes(domain=[1 - 1488.3 / H, 1 - 1336.7 / H], range=[-77.5, 0], tickmode="array",
                 tickvals=dd_ticks, ticktext=dd_labels, automargin=False,
                 tickfont=dict(size=9, color="#666666", family=CHART_FONT),
                 showgrid=True, gridcolor="rgba(0,0,0,0.05)", gridwidth=1.5, zeroline=False,
                 ticks="outside", ticklen=6, tickcolor="rgba(0,0,0,0)", row=2, col=1)

fig.write_html("out.html", config=dict(displayModeBar=False),
               post_script="document.body.style.margin='0';")
